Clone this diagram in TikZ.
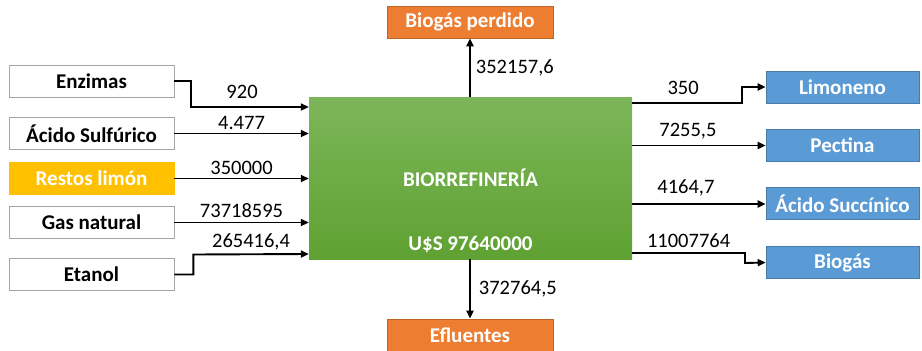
\documentclass[tikz,border=0pt]{standalone}
\usepackage{fontspec}
\setmainfont{Carlito}
\usetikzlibrary{arrows.meta}
\definecolor{inblue}{HTML}{5B9BD5}
\definecolor{lossorange}{HTML}{ED7D31}
\definecolor{rawyellow}{HTML}{FFC000}
\definecolor{plantgreentop}{HTML}{7DB65A}
\definecolor{plantgreenbot}{HTML}{5FA132}

\begin{document}
\begin{tikzpicture}[x=1pt,y=-1pt]
\tikzset{every node/.style={inner sep=0pt,font=\fontsize{20}{24}\selectfont}}
\tikzset{inbox/.style={draw=gray!70,line width=0.6pt,fill=white,minimum width=165pt,minimum height=32pt,font=\fontsize{21}{24}\selectfont\bfseries}}
\tikzset{outbox/.style={draw=inblue!80!black,line width=0.6pt,fill=inblue,text=white,minimum width=153pt,minimum height=32pt,font=\fontsize{21}{24}\selectfont\bfseries}}
\tikzset{lossbox/.style={draw=lossorange!80!black,line width=0.6pt,fill=lossorange,text=white,minimum width=166pt,minimum height=32pt,font=\fontsize{21}{24}\selectfont\bfseries}}
\tikzset{flow/.style={line width=1.9pt,-{Triangle[length=8pt,width=7pt]}}}
\tikzset{qty/.style={inner sep=3pt,font=\fontsize{20.5}{24}\selectfont}}

\useasboundingbox (0,0) rectangle (922,351);

\node[top color=plantgreentop,bottom color=plantgreenbot,minimum width=323pt,minimum height=162pt,text=white,font=\fontsize{21}{24}\selectfont\bfseries] (bio) at (470.5,178) {BIORREFINERÍA};
\node[text=white,font=\fontsize{21}{24}\selectfont\bfseries] (cost) at ([yshift=15pt]bio.south) {U\$S 97640000};

\node[inbox] (enz) at (91.5,81) {Enzimas};
\node[inbox] (acs) at (91.5,133.5) {Ácido Sulfúrico};
\node[inbox,fill=rawyellow,draw=rawyellow,text=white] (res) at (91.5,178.5) {Restos limón};
\node[inbox] (gas) at (91.5,222.5) {Gas natural};
\node[inbox] (eta) at (91.5,274.5) {Etanol};

\node[outbox] (lim) at (842.5,87) {Limoneno};
\node[outbox] (pec) at (842.5,145.5) {Pectina};
\node[outbox] (suc) at (842.5,203.5) {Ácido Succínico};
\node[outbox] (bgs) at (842.5,262.5) {Biogás};

\node[lossbox] (per) at (470,22) {Biogás perdido};
\node[lossbox] (efl) at (470,335) {Efluentes};

\draw[flow] (enz.east) -- ++(17,0) -- ++(0,26) -- (bio.west |- 0,107) node[qty,midway,above,yshift=4pt,xshift=-8pt] (q1) {920};
\draw[flow] (acs.east) -- (bio.west |- acs) node[qty,midway,above] (q2) {4.477};
\draw[flow] (res.east) -- (bio.west |- res) node[qty,midway,above] (q3) {350000};
\draw[flow] (gas.east) -- (bio.west |- gas) node[qty,midway,above,yshift=1pt] (q4) {73718595};
\draw[flow] (eta.east) -- ++(19,0) -- ++(0,-20) -- (bio.west |- 0,254) node[qty,midway,above] (q5) {265416,4};

\draw[flow] (bio.east |- 0,103) -- (742,103) node[qty,midway,above,yshift=4pt,xshift=-4pt] (q6) {350} -- (742,87) -- (lim.west);
\draw[flow] (bio.east |- pec) -- (pec.west) node[qty,midway,above,yshift=2pt,xshift=-11pt] (q7) {7255,5};
\draw[flow] (bio.east |- 0,204) -- (suc.west |- 0,204) node[qty,midway,above,yshift=4pt,xshift=-13pt] (q8) {4164,7};
\draw[flow] (bio.east |- 0,253) -- (745,253) node[qty,midway,above,yshift=1pt] (q9) {11007764} -- (745,263) -- (bgs.west);

\draw[flow] (bio.north -| per) -- (per.south) node[qty,midway,right,inner sep=5pt] (q10) {352157,6};
\draw[flow] (bio.south -| efl) -- (efl.north) node[qty,midway,right,inner sep=8pt] (q11) {372764,5};
\end{tikzpicture}
\end{document}
